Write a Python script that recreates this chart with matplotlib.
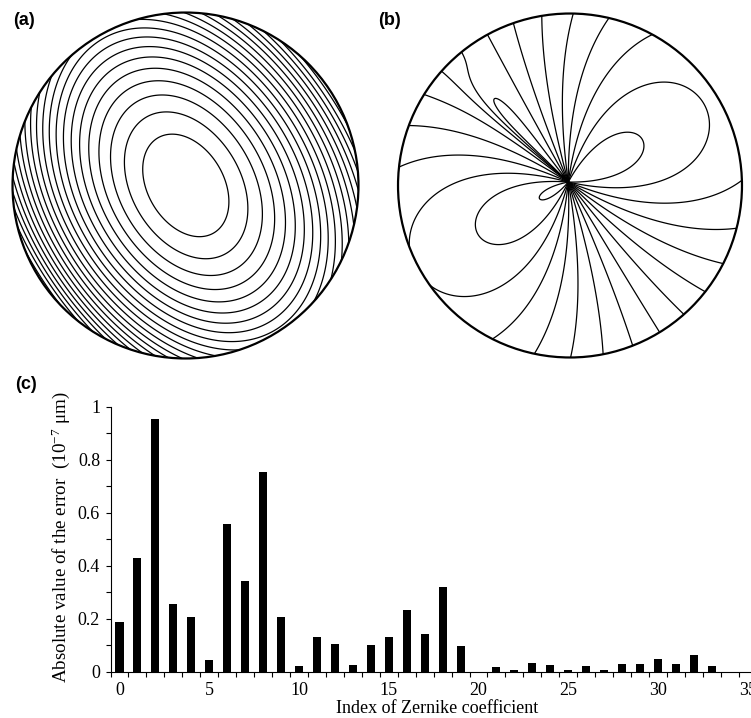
import numpy as np
import matplotlib.pyplot as plt
from matplotlib.patches import Circle

plt.rcParams['font.family'] = ['Liberation Serif', 'DejaVu Serif']
plt.rcParams['mathtext.fontset'] = 'custom'
plt.rcParams['mathtext.rm'] = 'Liberation Serif'
plt.rcParams['mathtext.it'] = 'Liberation Serif:italic'
plt.rcParams['contour.negative_linestyle'] = 'solid'

# (c) bar data: absolute error of each Zernike coefficient (x 1e-7 um)
zernike_index = list(range(36))
abs_error = [0.188, 0.430, 0.954, 0.257, 0.206, 0.044, 0.556, 0.341, 0.753, 0.208,
             0.021, 0.133, 0.105, 0.026, 0.102, 0.133, 0.235, 0.142, 0.321, 0.097,
             0.0, 0.018, 0.009, 0.033, 0.028, 0.009, 0.024, 0.006, 0.029, 0.030,
             0.048, 0.030, 0.063, 0.021, 0.0, 0.0]
x_ticks = [0, 5, 10, 15, 20, 25, 30, 35]
y_ticks = [0, 0.2, 0.4, 0.6, 0.8, 1.0]
y_ticklabels = ['0', '0.2', '0.4', '0.6', '0.8', '1']

# (a) wavefront: tilted paraboloid  a x^2 + b y^2 + 2 c x y  + cubic / quartic terms
a_quad = (17.0, 12.0, 4.5)
a_cubic_x = -0.8
a_cubic_ne = -1.0
a_quart_ne = 1.5
a_first = 0.95
a_nlev = 30

# (b) error map with a singular point
b_center = (-0.01, 0.02)
b_phi = 30.0
b_slope = 0.29
b_bump = {'theta': 133.0, 'width': 6.0, 'height': 0.33, 'radius': 0.75}
b_top = 0.856
b_step = 0.12
b_nlev = 16


def disk_axes(rect):
    ax = fig.add_axes(rect)
    ax.set_xlim(-1.01, 1.01)
    ax.set_ylim(-1.01, 1.01)
    ax.set_aspect('equal')
    ax.axis('off')
    return ax


fig = plt.figure(figsize=(7.51, 7.18), dpi=100)

# ---------------- (a) ----------------
ax_a = disk_axes([10.8 / 751, 1 - 360.2 / 718, 349.4 / 751, 349.4 / 718])
n = 700
xs = np.linspace(-1.0, 1.0, n)
X, Y = np.meshgrid(xs, xs)
qa, qb, qc = a_quad
ne = (X + Y) / np.sqrt(2)
fa = (qa * X**2 + qb * Y**2 + 2 * qc * X * Y + a_cubic_x * X**3
      + a_cubic_ne * ne**3 + a_quart_ne * ne**4)
inside = np.hypot(X, Y) <= 1
a_levels = fa[inside].min() + a_first + np.arange(a_nlev)
ax_a.add_patch(Circle((0, 0), 1.0, fill=False, lw=1.6, color='black', zorder=3))
cs = ax_a.contour(X, Y, fa, levels=a_levels, colors='black', linewidths=0.9)
cs.set_clip_path(Circle((0, 0), 1.0, transform=ax_a.transData))

# ---------------- (b) ----------------
ax_b = disk_axes([396.3 / 751, 1 - 359.2 / 718, 347.4 / 751, 347.4 / 718])
n = 900
xs = np.linspace(-1.0, 1.0, n)
X, Y = np.meshgrid(xs, xs)
T = np.arctan2(Y - b_center[1], X - b_center[0])
Rb = np.hypot(X - b_center[0], Y - b_center[1])
base = np.cos(T - np.deg2rad(b_phi))
d = np.angle(np.exp(1j * (T - np.deg2rad(b_bump['theta']))))
bump = (b_bump['height'] * np.exp(-(d / np.deg2rad(b_bump['width']))**2)
        * np.exp(-(Rb / b_bump['radius'])**4))
fb = (1 - b_slope * Rb) * base + bump
b_levels = sorted(b_top - b_step * np.arange(b_nlev))
ax_b.add_patch(Circle((0, 0), 1.0, fill=False, lw=1.6, color='black', zorder=3))
cs = ax_b.contour(X, Y, fb, levels=b_levels, colors='black', linewidths=0.9)
cs.set_clip_path(Circle((0, 0), 1.0, transform=ax_b.transData))

# ---------------- (c) ----------------
ax_c = fig.add_axes([110.5 / 751, 46 / 718, 640.5 / 751, 265.5 / 718])
ax_c.bar(zernike_index, abs_error, width=0.45, color='black')
ax_c.set_xlim(-0.5, 35.18)
ax_c.set_ylim(0, 1)
ax_c.spines['top'].set_visible(False)
ax_c.spines['right'].set_visible(False)
for s in ['left', 'bottom']:
    ax_c.spines[s].set_linewidth(0.8)
ax_c.set_xticks(x_ticks)
ax_c.set_xticks(np.arange(-0.5, 35.2, 1), minor=True)
ax_c.set_yticks(y_ticks)
ax_c.set_yticklabels(y_ticklabels)
ax_c.set_yticks(np.arange(0.1, 1.0, 0.2), minor=True)
ax_c.tick_params(axis='x', which='major', length=0, pad=7, labelsize=13)
ax_c.tick_params(axis='x', which='minor', length=3.5, width=0.8, direction='out')
ax_c.tick_params(axis='y', which='both', length=3.5, width=0.8, direction='out', labelsize=13, pad=4)

fig.text(437 / 751, 1 - 713 / 718, 'Index of Zernike coefficient', ha='center', va='baseline', fontsize=13)
fig.text(61 / 751, 1 - 537 / 718, 'Absolute value of the error  (10$^{-7}$ \u03bcm)',
         rotation=90, ha='center', va='center', fontsize=13.7)

for lab, x, y in [('(a)', 13, 25), ('(b)', 378, 25), ('(c)', 15, 389)]:
    fig.text(x / 751, 1 - y / 718, lab, family=['Liberation Sans', 'DejaVu Sans'],
             weight='bold', fontsize=13, va='baseline')

fig.savefig('out.png', dpi=100)
